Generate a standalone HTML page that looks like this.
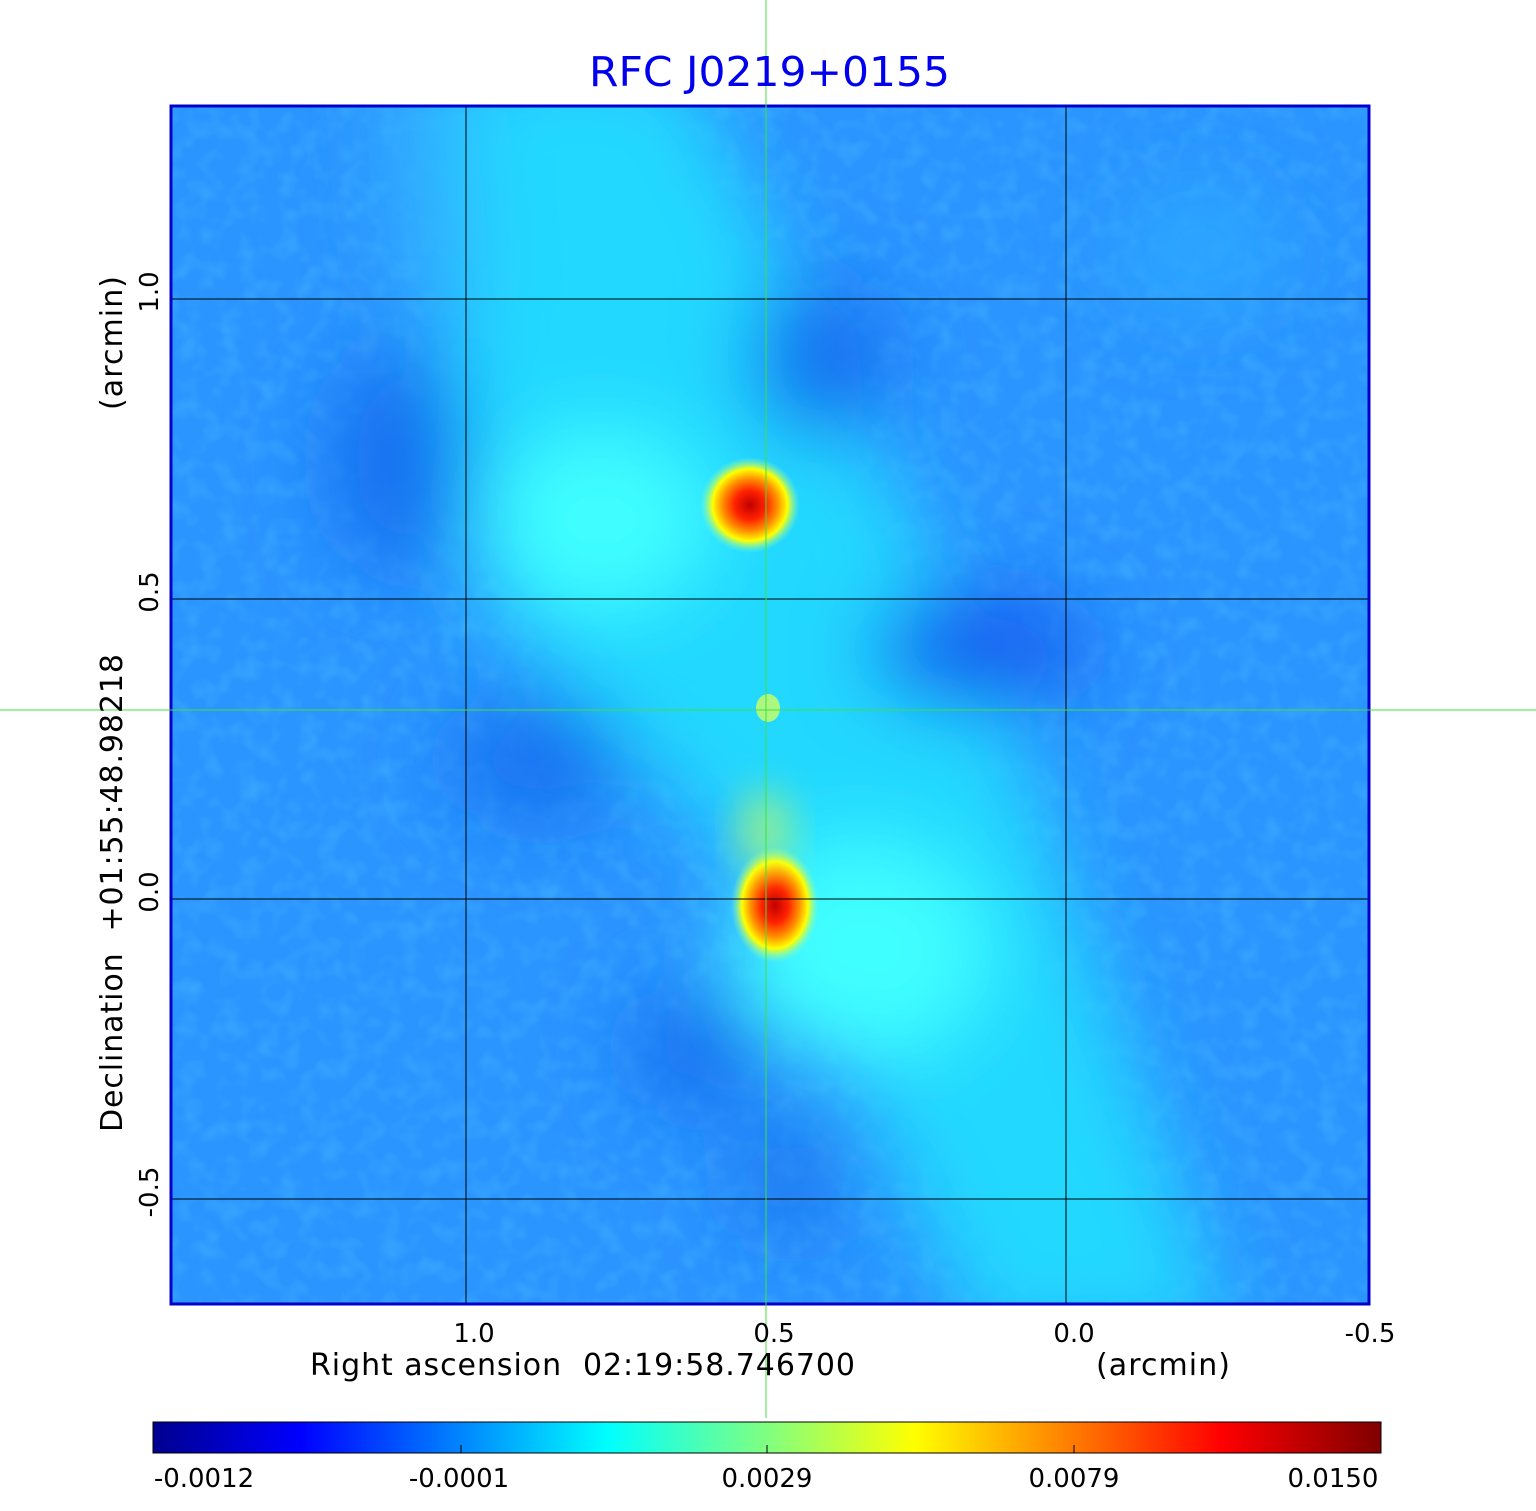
<!DOCTYPE html>
<html><head><meta charset="utf-8"><style>
body{margin:0;background:#fff;width:1536px;height:1511px;overflow:hidden;font-family:"DejaVu Sans","Liberation Sans",sans-serif}
</style></head><body>
<svg width="1536" height="1511" xmlns="http://www.w3.org/2000/svg" style="position:absolute;left:0;top:0">
<defs>
<filter id="b40" x="-50%" y="-50%" width="200%" height="200%"><feGaussianBlur stdDeviation="40"/></filter>
<filter id="b20" x="-50%" y="-50%" width="200%" height="200%"><feGaussianBlur stdDeviation="20"/></filter>
<filter id="noise"><feTurbulence type="fractalNoise" baseFrequency="0.05" numOctaves="2" seed="3"/><feColorMatrix type="matrix" values="0 0 0 0 0.1  0 0 0 0 0.6  0 0 0 0 1  0 0 0 1.2 -0.5"/></filter>
<radialGradient id="hot"><stop offset="0" stop-color="#c00000"/><stop offset="0.3" stop-color="#ff2000"/><stop offset="0.55" stop-color="#ff9000"/><stop offset="0.75" stop-color="#ffff00"/><stop offset="1" stop-color="#80ffc0" stop-opacity="0"/></radialGradient>
<linearGradient id="cb" x1="0" x2="1"><stop offset="0" stop-color="#00008f"/><stop offset="0.12" stop-color="#0000ff"/><stop offset="0.37" stop-color="#00ffff"/><stop offset="0.5" stop-color="#80ff80"/><stop offset="0.62" stop-color="#ffff00"/><stop offset="0.87" stop-color="#ff0000"/><stop offset="1" stop-color="#800000"/></linearGradient>
<clipPath id="c"><rect x="170" y="105" width="1200" height="1200"/></clipPath>
</defs>
<g clip-path="url(#c)">
<rect x="170" y="105" width="1200" height="1200" fill="#2a94ff"/>
<rect x="170" y="105" width="1200" height="1200" filter="url(#noise)" opacity="0.5"/>
<g filter="url(#b40)">
<polygon points="420,60 680,60 1000,700 1230,1340 980,1340 760,880 480,600" fill="#20d8ff"/>
<polygon points="380,60 460,60 480,300 400,300" fill="#30b0ff"/>
<ellipse cx="600" cy="520" rx="110" ry="90" fill="#40ffff"/>
<ellipse cx="860" cy="950" rx="130" ry="110" fill="#40ffff"/>
<ellipse cx="400" cy="460" rx="70" ry="110" fill="#1870f0"/>
<ellipse cx="820" cy="360" rx="70" ry="80" fill="#1870f0"/>
<ellipse cx="980" cy="650" rx="110" ry="60" fill="#1460f0"/>
<ellipse cx="540" cy="760" rx="90" ry="60" fill="#1870f0"/>
<ellipse cx="700" cy="1050" rx="70" ry="60" fill="#1870f0"/>
<ellipse cx="790" cy="1180" rx="50" ry="60" fill="#1c78f0"/>
<ellipse cx="1200" cy="250" rx="80" ry="60" fill="#2aa8ff"/>
</g>
<ellipse cx="750" cy="505" rx="50" ry="48" fill="url(#hot)"/>
<ellipse cx="775" cy="905" rx="44" ry="58" fill="url(#hot)"/>
<ellipse cx="765" cy="830" rx="25" ry="40" fill="#e0ff40" opacity="0.6" filter="url(#b20)"/>
<ellipse cx="768" cy="708" rx="12" ry="14" fill="#d0ff60" opacity="0.8"/>
<g stroke="#000" stroke-width="1">
<line x1="466" y1="105" x2="466" y2="1305"/><line x1="1066" y1="105" x2="1066" y2="1305"/><line x1="766" y1="105" x2="766" y2="1305"/>
<line x1="170" y1="299" x2="1370" y2="299"/><line x1="170" y1="599" x2="1370" y2="599"/><line x1="170" y1="899" x2="1370" y2="899"/><line x1="170" y1="1199" x2="1370" y2="1199"/>
</g>
</g>
<rect x="171" y="106" width="1198" height="1198" fill="none" stroke="#0000cc" stroke-width="3"/>
<line x1="766" y1="0" x2="766" y2="1418" stroke="#40e040" stroke-width="1"/>
<line x1="0" y1="710" x2="1536" y2="710" stroke="#40e040" stroke-width="1"/>
<text x="589" y="86" font-size="41" fill="#0000ee" textLength="361" lengthAdjust="spacingAndGlyphs" font-family="DejaVu Sans, Liberation Sans, sans-serif">RFC J0219+0155</text>
<g font-size="26" fill="#000" font-family="DejaVu Sans, Liberation Sans, sans-serif">
<text x="474" y="1342" text-anchor="middle">1.0</text>
<text x="774" y="1342" text-anchor="middle">0.5</text>
<text x="1074" y="1342" text-anchor="middle">0.0</text>
<text x="1370" y="1342" text-anchor="middle">-0.5</text>
<text x="310" y="1375" font-size="30" xml:space="preserve" textLength="545">Right ascension  02:19:58.746700</text>
<text x="1096" y="1375" font-size="30" textLength="134">(arcmin)</text>
<text transform="translate(158,292) rotate(-90)" text-anchor="middle">1.0</text>
<text transform="translate(158,592) rotate(-90)" text-anchor="middle">0.5</text>
<text transform="translate(158,892) rotate(-90)" text-anchor="middle">0.0</text>
<text transform="translate(158,1192) rotate(-90)" text-anchor="middle">-0.5</text>
<text transform="translate(122,1132) rotate(-90)" font-size="30" xml:space="preserve" textLength="478">Declination  +01:55:48.98218</text>
<text transform="translate(122,410) rotate(-90)" font-size="30" textLength="134">(arcmin)</text>
</g>
<rect x="153" y="1422" width="1228" height="31" fill="url(#cb)" stroke="#000" stroke-width="1"/>
<g stroke="#000"><line x1="461" y1="1453" x2="461" y2="1445"/><line x1="767" y1="1453" x2="767" y2="1445"/><line x1="1074" y1="1453" x2="1074" y2="1445"/></g>
<g font-size="26" fill="#000" text-anchor="middle" font-family="DejaVu Sans, Liberation Sans, sans-serif">
<text x="204" y="1487">-0.0012</text><text x="459" y="1487">-0.0001</text><text x="767" y="1487">0.0029</text><text x="1074" y="1487">0.0079</text><text x="1333" y="1487">0.0150</text>
</g>
</svg>
</body></html>
